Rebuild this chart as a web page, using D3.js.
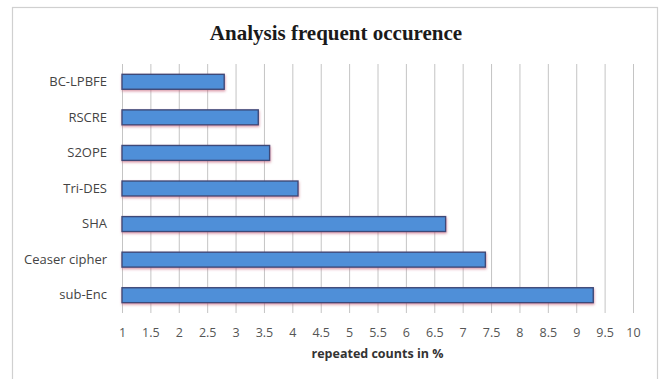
<!DOCTYPE html>
<html><head><meta charset="utf-8">
<script src="https://cdn.jsdelivr.net/npm/d3@7"></script>
<style>body{margin:0;background:#fff}svg{display:block}</style>
</head><body><svg id="c" width="663" height="379"></svg>
<script>
const categories = ["BC-LPBFE","RSCRE","S2OPE","Tri-DES","SHA","Ceaser cipher","sub-Enc"];
const values = [2.8, 3.4, 3.6, 4.1, 6.7, 7.4, 9.3];
const tickValues = [1,1.5,2,2.5,3,3.5,4,4.5,5,5.5,6,6.5,7,7.5,8,8.5,9,9.5,10];
const title = "Analysis frequent occurence";
const xTitle = "repeated counts in %";

const svg = d3.select("#c");
const W = 663, H = 379;
const m = {left:122, right:W-633, top:64, bottom:H-313};

svg.append("rect").attr("x",12.5).attr("y",7.5).attr("width",645).attr("height",380)
  .attr("fill","#fff").attr("stroke","#d0d0d0").attr("stroke-width",1.2);

const x = d3.scaleLinear().domain([1,10]).range([m.left, W-m.right]);
const y = d3.scaleBand().domain(categories).range([m.top, H-m.bottom]).paddingInner(0.58).paddingOuter(0.29);

const defs = svg.append("defs");
const f = defs.append("filter").attr("id","sh").attr("x","-5%").attr("y","-40%").attr("width","110%").attr("height","200%");
f.append("feDropShadow").attr("dx",0.5).attr("dy",1.5).attr("stdDeviation",1.2).attr("flood-color","#c0506a").attr("flood-opacity",0.55);

// gridlines
svg.append("g").selectAll("line").data(tickValues).join("line")
  .attr("x1",d=>x(d)+0.5).attr("x2",d=>x(d)+0.5)
  .attr("y1",m.top).attr("y2",H-m.bottom)
  .attr("stroke","#c4c4c4").attr("stroke-width",1);

// tick labels via axis
const ax = svg.append("g").attr("transform",`translate(0,${H-m.bottom})`)
  .call(d3.axisBottom(x).tickValues(tickValues).tickSize(0).tickPadding(15).tickFormat(d3.format("")));
ax.select(".domain").remove();
ax.selectAll("text").attr("font-family","'Open Sans', sans-serif").attr("font-size","12.5px").attr("fill","#555");

// category labels
const ay = svg.append("g").attr("transform",`translate(${m.left},0)`)
  .call(d3.axisLeft(y).tickSize(0).tickPadding(15));
ay.select(".domain").remove();
ay.selectAll("text").attr("font-family","'Open Sans', sans-serif").attr("font-size","13px").attr("fill","#444");

// bars
svg.append("g").selectAll("rect").data(categories).join("rect")
  .attr("x",x(1)).attr("y",d=>y(d))
  .attr("width",(d,i)=>x(values[i])-x(1)).attr("height",y.bandwidth())
  .attr("fill","#4f8fd8").attr("stroke","#3d4a78").attr("stroke-width",1.4)
  .attr("filter","url(#sh)");

svg.append("text").attr("x",336).attr("y",40).attr("text-anchor","middle")
  .attr("font-family","'Liberation Serif', 'Times New Roman', serif").attr("font-weight","bold")
  .attr("font-size","21px").attr("fill","#1a1a1a").text(title);

svg.append("text").attr("x",(x(1)+x(10))/2).attr("y",358).attr("text-anchor","middle")
  .attr("font-family","'Open Sans', sans-serif").attr("font-weight","bold")
  .attr("font-size","12.5px").attr("fill","#333").text(xTitle);
</script></body></html>
